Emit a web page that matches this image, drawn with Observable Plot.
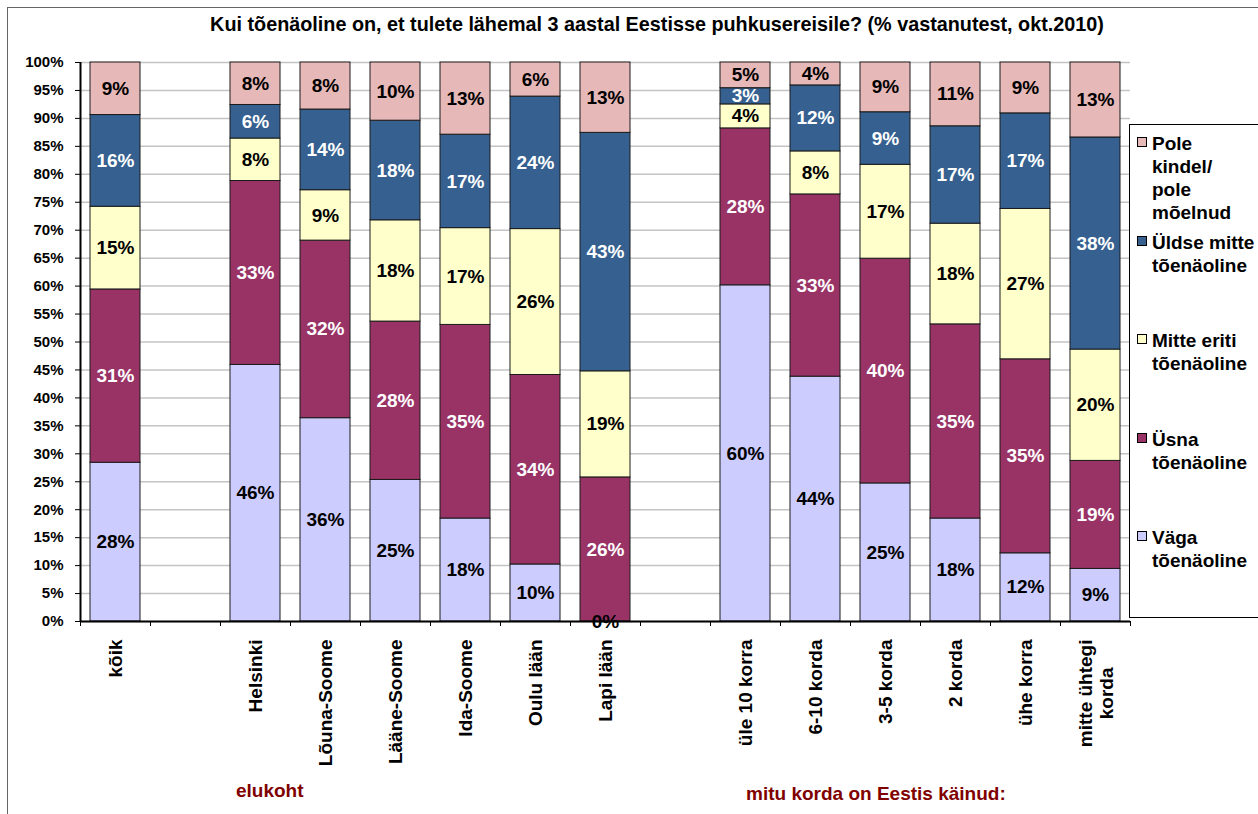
<!DOCTYPE html>
<html><head><meta charset="utf-8">
<script src="https://cdn.jsdelivr.net/npm/d3@7"></script>
<script src="https://cdn.jsdelivr.net/npm/@observablehq/plot@0.6"></script>
<style>
html,body{margin:0;padding:0;overflow:hidden;background:#fff;}
#wrap{position:relative;width:1258px;height:814px;overflow:hidden;font-family:"Liberation Sans",Arial,sans-serif;font-weight:bold;color:#000;}
#border{position:absolute;left:7px;top:7px;width:1400px;height:1000px;border-left:1px solid #666;border-top:1px solid #666;}
#chart{position:absolute;left:0;top:0;}
#title{position:absolute;left:0;width:1314px;top:13px;text-align:center;font-size:19.8px;line-height:23px;white-space:nowrap;}
.group{position:absolute;font-size:19px;line-height:23px;color:#800000;white-space:nowrap;}
#legend{position:absolute;left:1129px;top:124px;width:150px;height:492px;border:1px solid #000;background:#fff;}
.item{position:absolute;left:0;width:150px;font-size:19px;line-height:23px;white-space:pre;}
.sw{position:absolute;left:7px;top:5px;width:8px;height:8px;border:1px solid #000;}
.lt{position:absolute;left:22px;top:0;}
</style>
</head><body>
<div id="wrap">
  <div id="border"></div>
  <div id="chart"></div>
  <div id="title"></div>
  <div id="legend"></div>
</div>
<script>
const titleText = "Kui tõenäoline on, et tulete lähemal 3 aastal Eestisse puhkusereisile? (% vastanutest, okt.2010)";
const categories = ["kõik","Helsinki","Lõuna-Soome","Lääne-Soome","Ida-Soome","Oulu lään","Lapi lään","üle 10 korra","6-10 korda","3-5 korda","2 korda","ühe korra","mitte ühtegi korda"];
const categoryLabels = ["kõik","Helsinki","Lõuna-Soome","Lääne-Soome","Ida-Soome","Oulu lään","Lapi lään","üle 10 korra","6-10 korda","3-5 korda","2 korda","ühe korra","mitte ühtegi\nkorda"];
const slots = ["kõik"," ","Helsinki","Lõuna-Soome","Lääne-Soome","Ida-Soome","Oulu lään","Lapi lään","  ","üle 10 korra","6-10 korda","3-5 korda","2 korda","ühe korra","mitte ühtegi korda"];
const groupLabels = ["elukoht","mitu korda on Eestis käinud:"];
const series = ["Väga tõenäoline","Üsna tõenäoline","Mitte eriti tõenäoline","Üldse mitte tõenäoline","Pole kindel/ pole mõelnud"];
const legendLabels = ["Väga\ntõenäoline","Üsna\ntõenäoline","Mitte eriti\ntõenäoline","Üldse mitte\ntõenäoline","Pole\nkindel/\npole\nmõelnud"];
const colors = ["#ccccff","#993366","#ffffcc","#35608f","#e6b8b7"];
const darkSeries = ["Üsna tõenäoline","Üldse mitte tõenäoline"];
const yTicks = d3.range(0, 21).map(i => i / 20);

const vaga       = [28.4, 45.9, 36.3, 25.3, 18.4, 10.2,  0.0, 60.2, 43.8, 24.7, 18.4, 12.2,  9.4];
const usna       = [31.0, 32.9, 31.7, 28.3, 34.6, 33.9, 25.8, 28.1, 32.6, 40.2, 34.7, 34.7, 19.3];
const mitteEriti = [14.8,  7.6,  9.0, 18.1, 17.3, 26.1, 19.0,  4.3,  7.7, 16.8, 18.0, 26.9, 19.9];
const uldseMitte = [16.4,  6.0, 14.4, 17.8, 16.7, 23.7, 42.7,  2.9, 11.8,  9.4, 17.4, 17.1, 37.9];
const poleKindel = [ 9.4,  7.6,  8.4, 10.4, 12.9,  6.1, 12.6,  4.6,  4.1,  8.9, 11.4,  9.1, 13.4];
const seriesValues = [vaga, usna, mitteEriti, uldseMitte, poleKindel];

const rows = [];
series.forEach((s, si) => categories.forEach((c, ci) => rows.push({cat: c, series: s, value: seriesValues[si][ci]})));

const step = 70;
const catFont = 19;
const label = d => Math.round(d.value) + "%";

// measure label lines so multi-line labels can be centred line by line (as in the original)
const ctx = document.createElement("canvas").getContext("2d");
ctx.font = `bold ${catFont}px "Liberation Sans", Arial, sans-serif`;
const singleIdx = categories.map((c, i) => i).filter(i => !categoryLabels[i].includes("\n"));
const multiIdx = categories.map((c, i) => i).filter(i => categoryLabels[i].includes("\n"));

const catMarks = [
  Plot.text(singleIdx, {x: i => categories[i], text: i => categoryLabels[i], frameAnchor: "bottom", dy: 18,
    rotate: -90, textAnchor: "end", lineAnchor: "middle", fontSize: catFont}),
  ...multiIdx.map(i => {
    const w = d3.max(categoryLabels[i].split("\n"), s => ctx.measureText(s).width);
    return Plot.text([i], {x: j => categories[j], text: j => categoryLabels[j], frameAnchor: "bottom", dy: 18 + w / 2,
      rotate: -90, textAnchor: "middle", lineAnchor: "middle", fontSize: catFont, lineHeight: 1.15});
  })
];

const chart = Plot.plot({
  width: 1258, height: 814,
  marginLeft: 80, marginRight: 128, marginTop: 62, marginBottom: 193,
  style: {fontFamily: '"Liberation Sans", Arial, sans-serif', fontWeight: "bold", fontSize: "15px", background: "transparent", color: "#000"},
  x: {domain: slots, paddingInner: 20 / 70, paddingOuter: 10 / 70, axis: null},
  y: {domain: [0, 1], axis: null},
  color: {domain: series, range: colors},
  marks: [
    Plot.gridY(yTicks, {stroke: "#c4c4c4", strokeOpacity: 1, strokeWidth: 1.5}),
    Plot.barY(rows, {x: "cat", y: "value", fill: "series", order: series, offset: "normalize", stroke: "#1a1a1a", strokeWidth: 1}),
    Plot.text(rows, Plot.stackY({x: "cat", y: "value", z: "series", order: series, offset: "normalize",
      text: d => darkSeries.includes(d.series) ? "" : label(d), fill: "black", fontSize: 19})),
    Plot.text(rows, Plot.stackY({x: "cat", y: "value", z: "series", order: series, offset: "normalize",
      text: d => darkSeries.includes(d.series) ? label(d) : "", fill: "white", fontSize: 19})),
    Plot.axisY(yTicks, {tickFormat: d3.format(".0%"), tickSize: 5, tickPadding: 12, fontSize: 15, label: null}),
    Plot.ruleY([0], {stroke: "black", strokeWidth: 2}),
    Plot.ruleX([slots[0]], {dx: -step / 2, y1: 0, y2: 1, stroke: "black", strokeWidth: 2}),
    Plot.ruleX(slots, {dx: -step / 2, y1: 0, y2: -0.009, stroke: "black"}),
    Plot.ruleX([slots[slots.length - 1]], {dx: step / 2, y1: 0, y2: -0.009, stroke: "black"}),
    ...catMarks
  ]
});
document.getElementById("chart").appendChild(chart);
document.getElementById("title").textContent = titleText;

const wrap = document.getElementById("wrap");
const groupPos = [[236, 779], [746, 782]];
groupLabels.forEach((g, i) => {
  const el = document.createElement("div");
  el.className = "group";
  el.style.left = groupPos[i][0] + "px";
  el.style.top = groupPos[i][1] + "px";
  el.textContent = g;
  wrap.appendChild(el);
});

const legend = document.getElementById("legend");
const order = [4, 3, 2, 1, 0];
order.forEach((si, k) => {
  const item = document.createElement("div");
  item.className = "item";
  item.style.top = (7 + k * 98.5) + "px";
  const sw = document.createElement("div");
  sw.className = "sw";
  sw.style.background = colors[si];
  const t = document.createElement("div");
  t.className = "lt";
  t.textContent = legendLabels[si];
  item.appendChild(sw);
  item.appendChild(t);
  legend.appendChild(item);
});
</script>
</body></html>
